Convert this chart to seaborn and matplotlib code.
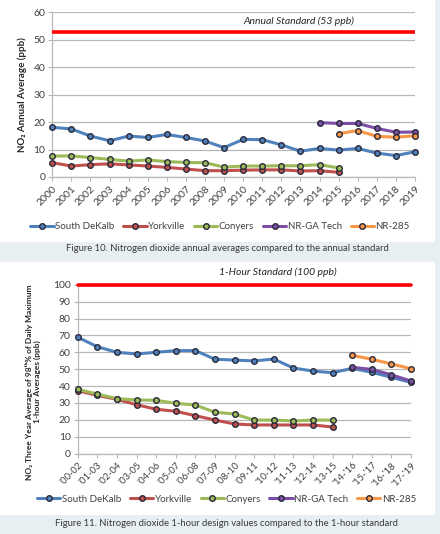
import numpy as np
import pandas as pd
import matplotlib
matplotlib.use("Agg")
import matplotlib.pyplot as plt
import seaborn as sns
from matplotlib.patches import Rectangle

sns.set_theme(style="white")
plt.rcParams['font.family'] = ['Lato', 'DejaVu Sans']

# ---------------- data ----------------
years = [str(y) for y in range(2000, 2020)]
annual_south_dekalb = [18.1, 17.5, 14.9, 13.2, 14.9, 14.4, 15.5, 14.4, 13.1, 10.7,
                       13.7, 13.6, 11.7, 9.4, 10.4, 9.8, 10.4, 8.7, 7.8, 9.2]
annual_yorkville = [5.2, 4.0, 4.5, 4.8, 4.4, 4.0, 3.5, 2.9, 2.3, 2.3,
                    2.5, 2.6, 2.6, 2.2, 2.3, 1.7]
annual_conyers = [7.6, 7.7, 7.1, 6.4, 5.8, 6.2, 5.6, 5.3, 5.2, 3.6,
                  4.0, 4.0, 4.1, 4.1, 4.5, 3.3]
annual_gatech_years = ['2014', '2015', '2016', '2017', '2018', '2019']
annual_gatech = [19.8, 19.5, 19.5, 17.7, 16.3, 16.4]
annual_nr285_years = ['2015', '2016', '2017', '2018', '2019']
annual_nr285 = [15.8, 16.9, 14.8, 14.5, 15.0]

periods = ["'00-02", "'01-03", "'02-04", "'03-05", "'04-06", "'05-07", "'06-08",
           "'07-09", "'08-10", "'09-11", "'10-12", "'11-13", "'12-14", "'13-15",
           "'14-'16", "'15-'17", "'16-'18", "'17-'19"]
hour_south_dekalb = [68.9, 63.3, 60.0, 59.0, 60.0, 61.0, 61.0, 55.9, 55.4, 54.9,
                     56.0, 50.7, 48.9, 47.9, 50.5, 48.2, 45.2, 42.2]
hour_yorkville = [37.3, 34.5, 32.2, 29.0, 26.3, 25.1, 22.5, 19.9, 17.6, 17.0,
                  17.0, 17.0, 17.0, 15.8]
hour_conyers = [38.1, 35.3, 32.6, 31.8, 31.6, 29.8, 28.8, 24.5, 23.5, 19.9,
                19.9, 19.4, 19.9, 19.9]
hour_gatech_periods = ["'14-'16", "'15-'17", "'16-'18", "'17-'19"]
hour_gatech = [51.1, 49.9, 46.7, 43.0]
hour_nr285_periods = ["'14-'16", "'15-'17", "'16-'18", "'17-'19"]
hour_nr285 = [58.2, 55.9, 53.1, 50.3]

sites = ["South DeKalb", "Yorkville", "Conyers", "NR-GA Tech", "NR-285"]
colors = ["#4f81bd", "#c0504d", "#9bbb59", "#7b4fa6", "#f79646"]
annual_std = 53
hour_std = 100


def build(cats, series):
    rows = []
    for site, (xs, vals) in zip(sites, series):
        for c, v in zip(xs, vals):
            rows.append({"site": site, "x": cats.index(c), "val": v})
    return pd.DataFrame(rows)


df_top = build(years, [
    (years, annual_south_dekalb),
    (years, annual_yorkville),
    (years, annual_conyers),
    (annual_gatech_years, annual_gatech),
    (annual_nr285_years, annual_nr285),
])
df_bot = build(periods, [
    (periods, hour_south_dekalb),
    (periods, hour_yorkville),
    (periods, hour_conyers),
    (hour_gatech_periods, hour_gatech),
    (hour_nr285_periods, hour_nr285),
])

# ---------------- figure ----------------
fig = plt.figure(figsize=(4.40, 5.34), dpi=100)
fig.patch.set_facecolor("#e7eff3")
fig.add_artist(Rectangle((0, 1 - 242 / 534), 435 / 440, 242 / 534,
                         transform=fig.transFigure, facecolor="white",
                         edgecolor="none", zorder=0))
fig.add_artist(Rectangle((0, 1 - 515 / 534), 435 / 440, 253 / 534,
                         transform=fig.transFigure, facecolor="white",
                         edgecolor="none", zorder=0))

ax1 = fig.add_axes([52.3 / 440, 1 - 177 / 534, (415 - 52.3) / 440, (177 - 12.3) / 534])
ax2 = fig.add_axes([77.7 / 440, 1 - 453.7 / 534, (411 - 77.7) / 440, (453.7 - 284.7) / 534])

text_col = "#404040"
grid_col = "#b8b8b8"
pal = dict(zip(sites, colors))


def style_axes(ax, n, ymax, step, labels, xfs):
    ax.set_facecolor("none")
    ax.set_xlim(0, n - 1)
    ax.set_ylim(0, ymax)
    ax.set_yticks(np.arange(0, ymax + 1, step))
    ax.set_xticks(range(n))
    ax.set_xticklabels(labels, rotation=45, ha="right", rotation_mode="anchor",
                       fontsize=xfs, color=text_col)
    ax.tick_params(axis="y", labelsize=7.5, colors=text_col, length=3, width=0.8,
                   color=grid_col, left=True, pad=2)
    ax.tick_params(axis="x", length=3, width=0.8, color=grid_col, bottom=True, pad=2)
    for lab in ax.get_yticklabels():
        lab.set_color(text_col)
    ax.grid(axis="y", color=grid_col, linewidth=0.9)
    ax.grid(axis="x", visible=False)
    for s in ["top", "right"]:
        ax.spines[s].set_visible(False)
    for s in ["left", "bottom"]:
        ax.spines[s].set_color(grid_col)
        ax.spines[s].set_linewidth(0.9)
    ax.set_xlabel("")
    ax.set_ylabel("")


for ax, df in [(ax1, df_top), (ax2, df_bot)]:
    sns.lineplot(data=df, x="x", y="val", hue="site", hue_order=sites,
                 palette=pal, marker="o", markersize=4.0, linewidth=2.2,
                 markeredgecolor="#2a2a3a", markeredgewidth=1.0, ax=ax,
                 legend=True, sort=True, clip_on=False, zorder=3)

style_axes(ax1, len(years), 60, 10, years, 7.5)
style_axes(ax2, len(periods), 100, 10, periods, 6.8)

ax1.axhline(annual_std, color="#ff0000", linewidth=2.6, zorder=4)
ax2.axhline(hour_std, color="#ff0000", linewidth=2.6, zorder=4, clip_on=False)

ax1.text(12.9, 56.6, "Annual Standard (53 ppb)", style="italic", fontsize=7.5,
         ha="center", va="center", color="#262626")
ax2.text(10.2, 107.1, "1-Hour Standard (100 ppb)", style="italic", fontsize=7.5,
         ha="center", va="center", color="#262626", clip_on=False)

# legends
for ax, y, xc in [(ax1, 1 - 226.7 / 534, 0.5), (ax2, 1 - 499.3 / 534, 0.515)]:
    handles, labels = ax.get_legend_handles_labels()
    ax.get_legend().remove()
    fig.legend(handles, labels, loc="center", bbox_to_anchor=(xc, y), ncol=5,
               frameon=False, fontsize=7, handlelength=2.4, handletextpad=0.15,
               columnspacing=0.9, labelcolor=text_col)

fig.text(22 / 440, 1 - 95 / 534, "NO₂ Annual Average (ppb)", rotation=90,
         ha="center", va="center", fontsize=7, fontweight="bold", color="#262626")
fig.text(33 / 440, 1 - 382 / 534,
         "NO₂ Three Year Average of 98ᵗʰ% of Daily Maximum\n1-hour Averages (ppb)",
         rotation=90, ha="center", va="center", fontsize=6, fontweight="bold",
         color="#262626", linespacing=1.2, multialignment="center")

fig.text(227 / 440, 1 - 248.3 / 534,
         "Figure 10. Nitrogen dioxide annual averages compared to the annual standard",
         ha="center", va="center", fontsize=6.8, color="#3a3a3a")
fig.text(226 / 440, 1 - 523.3 / 534,
         "Figure 11. Nitrogen dioxide 1-hour design values compared to the 1-hour standard",
         ha="center", va="center", fontsize=6.8, color="#3a3a3a")

fig.savefig("out.png", dpi=100, facecolor=fig.get_facecolor())
